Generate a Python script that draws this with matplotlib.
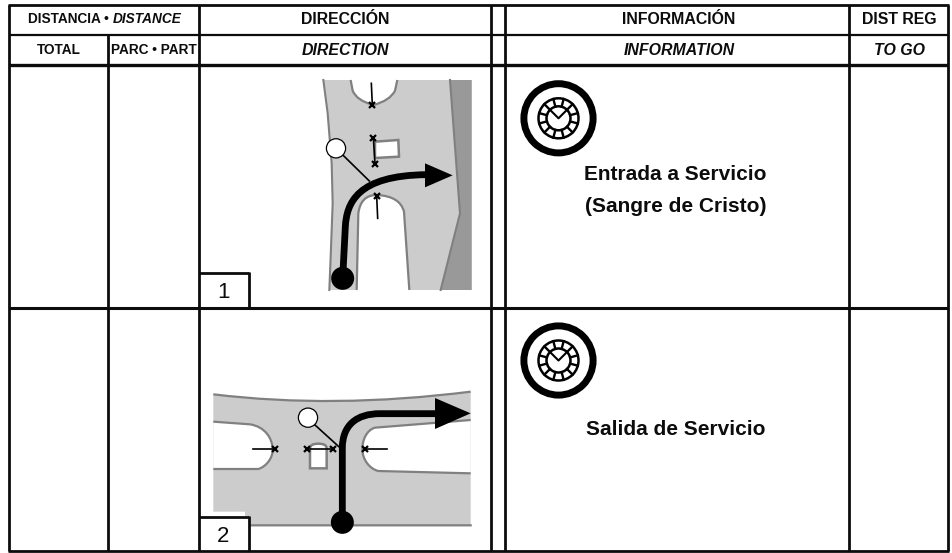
import numpy as np
import matplotlib
matplotlib.use('Agg')
import matplotlib.pyplot as plt
from matplotlib.path import Path
from matplotlib.patches import PathPatch, Circle, Polygon, Rectangle

plt.rcParams['font.family'] = ['Liberation Sans', 'DejaVu Sans']

W, H = 953, 553
fig = plt.figure(figsize=(W/100, H/100), dpi=100)
ax = fig.add_axes([0, 0, 1, 1])
ax.set_xlim(0, W); ax.set_ylim(H, 0); ax.axis('off')

# --- table text ---
header_es = ['DIRECCIÓN', 'INFORMACIÓN', 'DIST REG']
header_en = ['DIRECTION', 'INFORMATION', 'TO GO']
header_x = [345, 679, 899.5]
sub_labels = ['TOTAL', 'PARC • PART']
sub_x = [58.5, 154]
step_labels = ['1', '2']
info_1 = ['Entrada a Servicio', '(Sangre de Cristo)']
info_2 = ['Salida de Servicio']

INK = '#0c0c0c'; ROAD = '#cccccc'; EDGE = '#808080'; SHADE = '#999999'
M, L, C3, C4 = Path.MOVETO, Path.LINETO, Path.CURVE3, Path.CURVE4

def line(xs, ys, lw=2.0, c=INK, z=5):
    ax.plot(xs, ys, color=c, lw=lw, solid_capstyle='butt', zorder=z)

def to_px(pts, ox, oy):
    return [(ox + a/3, oy + b/3) for a, b in pts]

def shape(pts, codes, ox, oy, **kw):
    ax.add_patch(PathPatch(Path(to_px(pts, ox, oy), codes), **kw))

# ---- grid -----
Lft, Rgt, Top, Bot = 9, 948, 4.7, 551
V1, V2, V3, V4, V5 = 108.5, 199.3, 490.7, 505.3, 849
line([Lft-1, Rgt+1], [Top, Top]); line([Lft-1, Rgt+1], [Bot, Bot])
line([Lft, Lft], [Top, Bot]); line([Rgt, Rgt], [Top, Bot])
line([Lft, Rgt], [34.5, 34.5], lw=1.6)
line([Lft, Rgt], [64.5, 64.5], lw=2.4)
line([Lft, Rgt], [308, 308], lw=2.2)
line([V1, V1], [34.5, Bot])
line([V2, V2], [Top, Bot])
line([V3, V3], [Top, Bot]); line([V4, V4], [Top, Bot])
line([V5, V5], [Top, Bot])

# ---- header text ----
hfs = 11.4; sfs = 9.8
ax.text(28, 23.3, 'DISTANCIA • ', fontsize=sfs, fontweight='bold', ha='left', color=INK)
ax.text(113, 23.3, 'DISTANCE', fontsize=sfs, fontweight='bold', style='italic', ha='left', color=INK)
for x, a, b in zip(header_x, header_es, header_en):
    ax.text(x, 24.2, a, fontsize=hfs, fontweight='bold', ha='center', color=INK)
    ax.text(x, 54.7, b, fontsize=hfs, fontweight='bold', style='italic', ha='center', color=INK)
for x, s in zip(sub_x, sub_labels):
    ax.text(x, 54.2, s, fontsize=sfs, fontweight='bold', ha='center', color=INK)

# ---- panel 1 ----
ox, oy = 200, 70
left_edge = [(370,30),(383,130),(395,280),(398,400),(392,560),(388,660)]
ax.add_patch(Polygon(to_px(left_edge + [(815,660),(815,30)], ox, oy), fc=ROAD, ec='none', zorder=1))
ax.add_patch(Polygon(to_px([(750,30),(815,30),(815,660),(722,660),(780,430)], ox, oy), fc=SHADE, ec='none', zorder=1.5))
for pts in ([(750,30),(780,430),(722,660)], left_edge):
    ax.plot(*zip(*to_px(pts, ox, oy)), color=EDGE, lw=1.5, zorder=2)
shape([(452,30),(458,62),(470,92),(520,105),(570,92),(585,62),(592,30)], [M, L, C3, C3, C3, C3, L],
      ox, oy, fc='white', ec=EDGE, lw=1.6, zorder=2)
shape([(470,660),(475,430),(482,375),(530,375),(600,378),(612,425),(628,660)], [M, L, C3, C3, C3, C3, L],
      ox, oy, fc='white', ec=EDGE, lw=1.6, zorder=2)
ax.add_patch(Polygon(to_px([(525,215),(595,210),(597,260),(525,264)], ox, oy), fc='white', ec=EDGE, lw=1.8, zorder=2))

def xmark(x, y):
    ax.plot([x], [y], marker='x', ms=4.6, mew=1.6, color='black', zorder=4)

for pts in ([(514,40),(517,105)], [(520,203),(525,281)], [(530,377),(533,445)], [(408,235),(508,333)]):
    ax.plot(*zip(*to_px(pts, ox, oy)), color='black', lw=1.2, zorder=3)
for q in [(517,106),(520,203),(525,281),(530,377)]:
    xmark(*to_px([q], ox, oy)[0])
ax.add_patch(Circle(to_px([(408,235)], ox, oy)[0], 9.6, fc='white', ec='black', lw=0.9, zorder=6))
shape([(428,625),(436,470),(440,400),(470,316),(680,314)], [M, L, C4, C4, C4], ox, oy,
      fc='none', ec='black', lw=4.9, capstyle='butt', zorder=5)
ax.add_patch(Polygon(to_px([(675,280),(758,316),(675,352)], ox, oy), fc='black', ec='none', zorder=6))
ax.add_patch(Circle(to_px([(428,625)], ox, oy)[0], 11.5, fc='black', ec='none', zorder=6))

# step box 1
line([V2, 249.5], [273, 273]); line([248.8, 248.8], [272, 307])
ax.text(224, 298, step_labels[0], fontsize=16, ha='center', color=INK, zorder=7)

# ---- panel 2 ----
ox, oy = 200, 305
shape([(40,268),(400,312),(812,260),(812,660),(145,660),(135,650),(135,620),(40,620),(40,268)],
      [M, C3, C3, L, L, L, L, L, Path.CLOSEPOLY], ox, oy, fc=ROAD, ec='none', zorder=1)
shape([(40,268),(400,312),(812,260)], [M, C3, C3], ox, oy, fc='none', ec=EDGE, lw=1.6, zorder=2)
ax.plot(*zip(*to_px([(138,652),(148,661),(812,661)], ox, oy)), color=EDGE, lw=1.6, zorder=2)
shape([(40,350),(150,358),(195,365),(218,400),(218,435),(218,460),(198,485),(175,492),(40,492)],
      [M, L, C4, C4, C4, C4, C4, C4, L], ox, oy, fc='white', ec=EDGE, lw=1.6, zorder=2)
shape([(812,345),(525,368),(500,375),(487,405),(487,432),(487,465),(510,492),(535,498),(812,505)],
      [M, L, C4, C4, C4, C4, C4, C4, L], ox, oy, fc='white', ec=EDGE, lw=1.6, zorder=2)
shape([(330,490),(330,430),(330,416),(355,416),(380,416),(380,430),(380,490),(330,490)],
      [M, L, C3, C3, C3, C3, L, Path.CLOSEPOLY], ox, oy, fc='white', ec=EDGE, lw=1.8, zorder=2)
for pts in ([(160,432),(226,432)], [(322,432),(398,432)], [(494,432),(562,432)], [(345,360),(422,430)]):
    ax.plot(*zip(*to_px(pts, ox, oy)), color='black', lw=1.2, zorder=3)
for q in [(226,432),(322,432),(398,432),(494,432)]:
    xmark(*to_px([q], ox, oy)[0])
ax.add_patch(Circle(to_px([(324,338)], ox, oy)[0], 9.6, fc='white', ec='black', lw=0.9, zorder=6))
shape([(427,650),(427,430),(427,360),(470,326),(540,326),(720,326)], [M, L, C4, C4, C4, L], ox, oy,
      fc='none', ec='black', lw=4.9, capstyle='butt', zorder=5)
ax.add_patch(Polygon(to_px([(705,279),(812,325),(705,372)], ox, oy), fc='black', ec='none', zorder=6))
ax.add_patch(Circle(to_px([(427,652)], ox, oy)[0], 11.5, fc='black', ec='none', zorder=6))

# step box 2
ax.add_patch(Rectangle((V2, 516), 50, 35, fc='white', ec='none', zorder=3))
line([V2, 249.5], [516.5, 516.5]); line([248.8, 248.8], [516, 551])
ax.text(223, 541.7, step_labels[1], fontsize=16, ha='center', color=INK, zorder=7)

# ---- clock icons ----
def clock(cx, cy):
    ax.add_patch(Circle((cx, cy), 34.6, fc='none', ec='black', lw=5.0, zorder=4))
    ax.add_patch(Circle((cx, cy), 20, fc='none', ec='black', lw=1.8, zorder=4))
    ax.add_patch(Circle((cx, cy), 12, fc='none', ec='black', lw=1.8, zorder=4))
    for a in np.arange(0, 360, 30):
        r = np.radians(a + 15)
        ax.plot([cx + 12*np.cos(r), cx + 20*np.cos(r)], [cy + 12*np.sin(r), cy + 20*np.sin(r)],
                color='black', lw=1.7, zorder=4)
    ax.plot([cx-8, cx, cx+8], [cy-8, cy, cy-8], color='black', lw=1.5, zorder=4)

clock(558.5, 118.3)
clock(558.5, 360.5)

# ---- info text ----
for y, s in zip([180, 212], info_1):
    ax.text(675.5, y, s, fontsize=15, fontweight='bold', ha='center', color=INK)
ax.text(675.5, 435, info_2[0], fontsize=15, fontweight='bold', ha='center', color=INK)

fig.savefig('out.png', dpi=100)
